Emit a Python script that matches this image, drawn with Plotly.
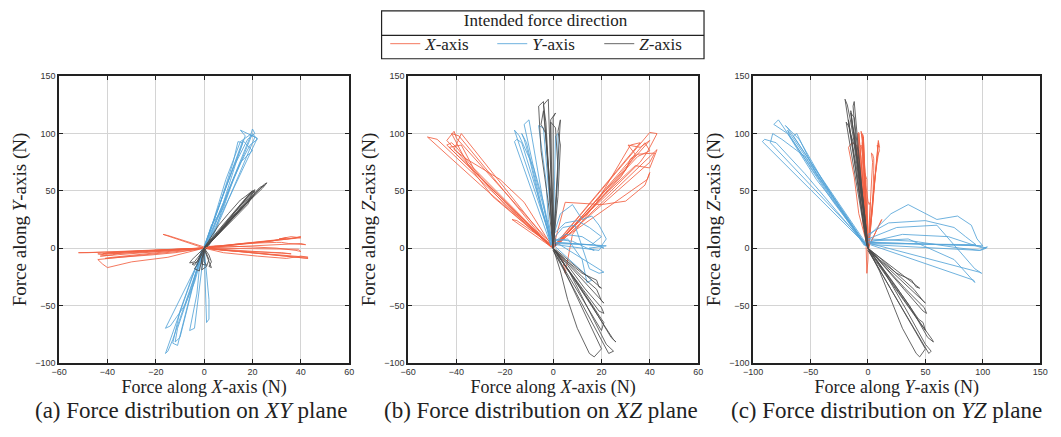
import plotly.graph_objects as go

# ---- Data: force trajectories (Fx, Fy, Fz) in N, grouped by intended direction ----
x_pos_trials = [
    [(0, 0, 0), (14, 3, 30), (28, 6, 62), (34, 9, 82), (31, 8, 90), (36, 10, 88), (40, 9, 94), (2, 1, 4)],
    [(0, 0, 1), (10, -2, 22), (24, -5, 50), (36, -7, 75), (39, -8, 84), (43, -9, 100), (40, -8, 101), (1, 0, 3)],
    [(0, 1, 0), (5, 2, 40), (20, 1, 38), (30, 0, 41), (38, -2, 55), (40, -3, 66), (39, -1, 60), (0, 0, 2)],
    [(0, 0, 0), (16, 4, 35), (30, 5, 68), (32, 5, 78), (35, 4, 82), (42, 3, 83), (40, 4, 75), (1, 0, 2)],
    [(0, 0, 0), (8, -4, 18), (22, -7, 48), (34, -9, 72), (40, -7, 70), (43, -8, 86), (3, -1, 5)],
    [(0, 0, 0), (4, 0, -10), (5, -1, -22), (8, -2, 12), (18, -3, 40), (32, -4, 90), (36, -5, 92), (0, 0, 1)],
    [(0, 0, 0), (18, 4, 42), (35, 8, 80), (40, 10, 85), (38, 9, 92), (2, 1, 3)],
]
x_neg_trials = [
    [(0, 0, 0), (-10, -1, 18), (-25, -2, 45), (-35, -3, 72), (-40, -4, 92), (-42, -5, 100), (-39, -4, 98), (-2, 0, 3)],
    [(0, 0, 0), (-20, -3, 38), (-38, -5, 80), (-44, -5, 94), (-41, -6, 102), (-40, -5, 96), (0, 0, 2)],
    [(0, 0, 0), (-30, -3, 55), (-52, -4, 97), (-48, -4, 95), (-1, 0, 1)],
    [(0, 0, 0), (-15, -8, 30), (-30, -12, 62), (-40, -17, 88), (-42, -14, 92), (-44, -10, 90), (-2, -1, 4)],
    [(0, 0, 0), (-12, -4, 40), (-22, -6, 60), (-36, -8, 78), (-41, -9, 86), (-38, -8, 100), (-1, 0, 2)],
    [(0, 0, 0), (-17, 12, 25), (-15, 11, 24), (0, 1, 2)],
    [(0, 0, 0), (-20, -2, 42), (-33, -3, 70), (-38, -6, 90), (-43, -7, 88), (-1, 0, 2)],
]
y_pos_trials = [
    [(0, 0, 5), (5, 30, 12), (12, 70, 10), (18, 95, 2), (21, 100, 0), (20, 104, 1), (19, 97, -2), (1, 3, 3)],
    [(0, 0, 8), (4, 25, 18), (9, 60, 20), (15, 93, -18), (19, 99, -22), (21, 97, -21), (2, 2, 4)],
    [(0, 0, 6), (6, 35, 8), (12, 75, -10), (14, 93, -30), (16, 92, -28), (0, 2, 3)],
    [(0, 0, 10), (3, 20, 30), (8, 35, 38), (12, 60, 25), (16, 78, 28), (19, 90, 20), (22, 95, 8), (20, 100, 2), (1, 2, 5)],
    [(0, 0, 12), (5, 18, 22), (10, 50, 24), (15, 75, 18), (20, 85, 10), (16, 94, 3), (0, 1, 4)],
    [(0, 0, 8), (8, 40, 6), (14, 80, 0), (17, 98, -2), (15, 103, 0), (22, 96, 2), (1, 2, 5)],
]
y_neg_trials = [
    [(0, 0, 0), (-4, -25, 30), (-9, -55, 65), (-13, -80, 92), (-15, -90, 95), (-16, -92, 93), (-1, -2, 3)],
    [(0, 0, 0), (-3, -20, 28), (-7, -45, 60), (-11, -70, 100), (-12, -82, 108), (-10, -78, 112), (-1, -3, 2)],
    [(0, 0, 0), (-4, -30, 40), (-8, -50, 70), (-14, -68, 98), (-16, -70, 103), (0, -2, 2)],
    [(0, 0, 0), (-2, -18, 25), (-3, -40, 60), (-5, -60, 95), (-6, -72, 107), (-4, -70, 105), (0, -1, 3)],
    [(0, 0, 0), (1, -20, 30), (2, -45, 65), (2, -62, 100), (1, -65, 98), (0, -2, 2)],
    [(0, 0, 0), (-5, -25, 35), (-10, -55, 80), (-12, -75, 95), (-13, -83, 100), (-11, -85, 92), (-1, -1, 3)],
]
z_pos_trials = [
    [(0, 0, 0), (-1, -5, 40), (-2, -10, 80), (-3, -15, 110), (-4, -18, 125), (-2, -20, 130), (0, -1, 3)],
    [(0, 0, 0), (0, -4, 35), (-1, -9, 75), (-1, -14, 112), (1, -15, 118), (0, -12, 114), (0, 0, 2)],
    [(0, 0, 0), (1, -5, 30), (2, -10, 70), (1, -16, 105), (-1, -19, 110), (0, -1, 2)],
    [(0, 0, 0), (-1, -3, 30), (-2, -8, 68), (-3, -12, 100), (-5, -14, 108), (-4, -15, 120), (1, 0, 2)],
    [(0, 0, 0), (2, -6, 45), (3, -12, 90), (2, -16, 102), (3, -17, 112), (0, -1, 3)],
    [(0, 0, 0), (-2, -4, 40), (-5, -10, 85), (-6, -13, 124), (-4, -12, 128), (0, -1, 2)],
]
z_neg_trials = [
    [(0, 0, 0), (5, 12, -10), (12, 28, -25), (18, 40, -36), (20, 48, -46), (21, 50, -48), (1, 1, -2)],
    [(0, 0, 0), (6, 14, -15), (13, 32, -35), (20, 49, -52), (21, 51, -57), (19, 48, -55), (0, 1, -1)],
    [(0, 0, 0), (8, 18, -25), (16, 36, -50), (24, 52, -78), (26, 57, -82), (25, 56, -80), (1, 1, -2)],
    [(0, 0, 0), (3, 10, -20), (6, 20, -45), (10, 30, -70), (15, 42, -92), (17, 45, -95), (20, 50, -88), (1, 1, -3)],
    [(0, 0, 0), (7, 15, -22), (15, 34, -55), (22, 50, -84), (25, 55, -90), (23, 53, -92), (0, 0, -2)],
    [(0, 0, 0), (5, 10, -10), (12, 25, -22), (18, 38, -28), (19, 42, -34), (20, 45, -35), (1, 1, -1)],
    [(0, 0, 0), (10, 22, -30), (20, 44, -62), (21, 48, -65), (20, 50, -72), (0, 0, -2)],
]

series_names = ["<i>X</i>-axis", "<i>Y</i>-axis", "<i>Z</i>-axis"]
series_colors = ["rgba(242,96,66,0.85)", "rgba(86,165,216,0.85)", "rgba(75,75,75,0.85)"]
series_trials = [x_pos_trials + x_neg_trials, y_pos_trials + y_neg_trials, z_pos_trials + z_neg_trials]

planes = [(0, 1), (0, 2), (1, 2)]
x_titles = ["Force along <i>X</i>-axis (N)", "Force along <i>X</i>-axis (N)", "Force along <i>Y</i>-axis (N)"]
y_titles = ["Force along <i>Y</i>-axis (N)", "Force along <i>Z</i>-axis (N)", "Force along <i>Z</i>-axis (N)"]
x_ranges = [(-60, 60), (-60, 60), (-100, 150)]
x_dticks = [20, 20, 50]
y_range = (-100, 150)
captions = ["(a) Force distribution on <i>XY</i> plane",
            "(b) Force distribution on <i>XZ</i> plane",
            "(c) Force distribution on <i>YZ</i> plane"]

W, H = 1061, 437
dom_x = [(50, 345), (405, 700), (756, 1048)]
dom_y = (73, 366)
caption_cx = [184, 540, 892]

SERIF = "Liberation Serif, Times New Roman, serif"
SANS = "Liberation Sans Narrow, Arial Narrow, Liberation Sans, sans-serif"

fig = go.Figure()
for pi, (a, b) in enumerate(planes):
    suffix = "" if pi == 0 else str(pi + 1)
    for si in range(3):
        xs, ys = [], []
        for tr in series_trials[si]:
            for p in tr:
                xs.append(p[a])
                ys.append(p[b])
            xs.append(None)
            ys.append(None)
        fig.add_trace(go.Scatter(
            x=xs, y=ys, mode="lines",
            line=dict(color=series_colors[si], width=1),
            name=series_names[si], legendgroup=str(si),
            showlegend=(pi == 0),
            xaxis="x" + suffix, yaxis="y" + suffix,
            hoverinfo="skip",
        ))

layout = dict(
    width=W, height=H,
    margin=dict(l=0, r=0, t=0, b=0),
    paper_bgcolor="white", plot_bgcolor="white",
    font=dict(family=SERIF, color="#222"),
    legend=dict(
        orientation="h", x=545 / W, xanchor="center", y=1 + 1 / H, yanchor="top",
        borderwidth=0, bgcolor="rgba(0,0,0,0)",
        font=dict(family=SERIF, size=17, color="#222"),
        title=dict(text="Intended force direction", side="top center",
                   font=dict(family=SERIF, size=17, color="#222")),
        entrywidth=62, entrywidthmode="pixels", tracegroupgap=0,
    ),
)
annotations = []
shapes = []
for pi in range(3):
    suffix = "" if pi == 0 else str(pi + 1)
    x0, x1 = dom_x[pi]
    layout["xaxis" + suffix] = dict(
        domain=[x0 / W, x1 / W], range=list(x_ranges[pi]), dtick=x_dticks[pi],
        anchor="y" + suffix, showgrid=True, gridcolor="#d4d4d4", gridwidth=1,
        zeroline=False, showline=True, linecolor="#222", linewidth=1.5, mirror="allticks",
        ticks="inside", ticklen=4, tickcolor="#222",
        tickfont=dict(family=SANS, size=9, color="#333"),
        title=dict(text=x_titles[pi], font=dict(family=SERIF, size=18, color="#222"), standoff=3),
    )
    layout["yaxis" + suffix] = dict(
        domain=[1 - dom_y[1] / H, 1 - dom_y[0] / H], range=list(y_range), dtick=50,
        anchor="x" + suffix, showgrid=True, gridcolor="#d4d4d4", gridwidth=1,
        zeroline=False, showline=True, linecolor="#222", linewidth=1.5, mirror="allticks",
        ticks="inside", ticklen=4, tickcolor="#222",
        tickfont=dict(family=SANS, size=9, color="#333"),
        title=dict(text=y_titles[pi], font=dict(family=SERIF, size=19, color="#222"), standoff=4),
    )
    annotations.append(dict(
        text=captions[pi], x=caption_cx[pi] / W, y=1 - 415 / H, xref="paper", yref="paper",
        xanchor="center", yanchor="middle", showarrow=False,
        font=dict(family=SERIF, size=23, color="#222"),
    ))

# legend frame and separator
shapes.append(dict(type="rect", xref="paper", yref="paper",
                   x0=378 / W, x1=706 / W, y0=1 - 55 / H, y1=1 - 6 / H,
                   line=dict(color="#222", width=1.2), fillcolor="rgba(0,0,0,0)"))
shapes.append(dict(type="line", xref="paper", yref="paper",
                   x0=378 / W, x1=706 / W, y0=1 - 31 / H, y1=1 - 31 / H,
                   line=dict(color="#222", width=1.2)))
layout["annotations"] = annotations
layout["shapes"] = shapes
fig.update_layout(**layout)
fig.write_html("out.html")
